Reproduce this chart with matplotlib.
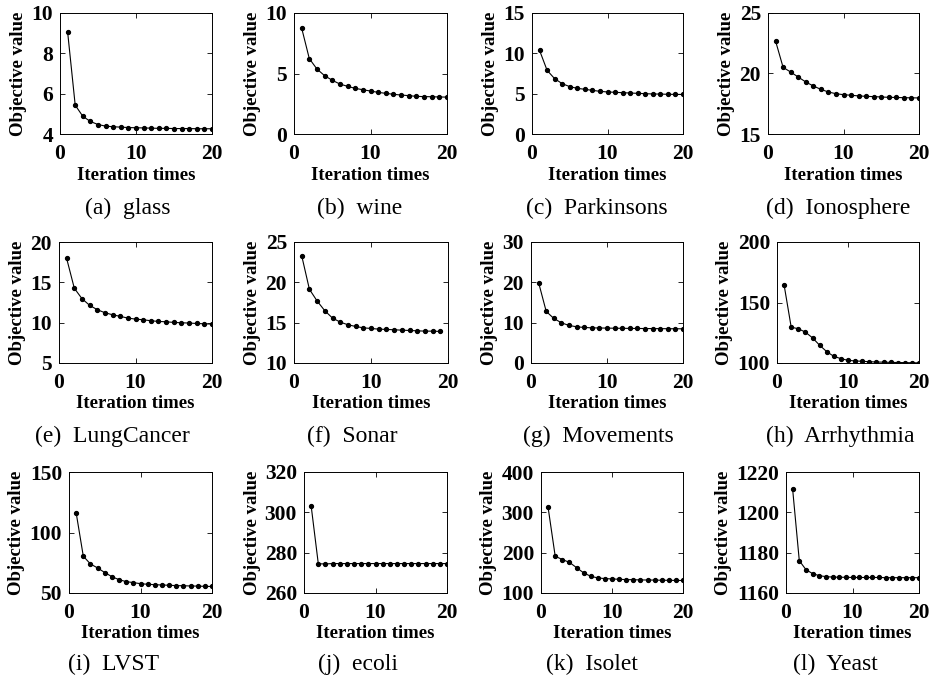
import matplotlib
matplotlib.use("Agg")
import matplotlib.pyplot as plt

plt.rcParams['font.family'] = ['Liberation Serif', 'DejaVu Serif']

# convergence data
glass = [9.07, 5.43, 4.88, 4.62, 4.47, 4.39, 4.36, 4.34, 4.32, 4.31, 4.30, 4.29, 4.28, 4.28, 4.27, 4.27, 4.27, 4.26, 4.26, 4.26]
wine = [8.76, 6.23, 5.37, 4.82, 4.44, 4.13, 3.94, 3.77, 3.66, 3.55, 3.44, 3.36, 3.28, 3.22, 3.17, 3.11, 3.09, 3.08, 3.06, 3.05]
parkinsons = [10.37, 7.89, 6.86, 6.24, 5.87, 5.66, 5.54, 5.41, 5.29, 5.21, 5.17, 5.12, 5.08, 5.04, 5.00, 4.96, 4.95, 4.92, 4.91, 4.90]
ionosphere = [22.69, 20.51, 20.12, 19.71, 19.30, 18.97, 18.69, 18.47, 18.33, 18.25, 18.20, 18.15, 18.11, 18.09, 18.06, 18.03, 18.02, 18.00, 17.99, 17.98]
lungcancer = [17.96, 14.27, 12.98, 12.15, 11.61, 11.23, 10.98, 10.78, 10.57, 10.44, 10.36, 10.24, 10.15, 10.11, 10.03, 9.99, 9.95, 9.90, 9.86, 9.82]
sonar = [23.3, 19.14, 17.69, 16.48, 15.57, 15.07, 14.74, 14.53, 14.36, 14.28, 14.20, 14.16, 14.12, 14.07, 14.03, 13.99, 13.95, 13.95, 13.91]
movements = [19.94, 12.8, 11.05, 9.97, 9.31, 8.98, 8.81, 8.72, 8.68, 8.65, 8.62, 8.60, 8.58, 8.56, 8.55, 8.53, 8.52, 8.50, 8.49, 8.48]
arrhythmia = [164.5, 129.6, 128.3, 125.5, 120.8, 114.7, 109.4, 105.5, 103.6, 102.2, 101.7, 101.4, 101.1, 100.8, 100.7, 100.5, 100.4, 100.3, 100.2, 100.1]
lvst = [116.3, 80.4, 74.0, 70.7, 66.9, 63.5, 61.0, 59.4, 58.6, 57.7, 57.2, 56.9, 56.6, 56.4, 56.1, 56.0, 55.8, 55.7, 55.5, 55.4]
ecoli = [303.2, 274.5, 274.4, 274.6, 274.6, 274.6, 274.6, 274.6, 274.6, 274.6, 274.6, 274.6, 274.6, 274.6, 274.6, 274.6, 274.6, 274.6, 274.6, 274.6]
isolet = [312.2, 191.2, 183.0, 176.0, 163.0, 150.0, 141.5, 137.4, 135.7, 134.9, 134.0, 133.2, 133.0, 132.4, 132.2, 132.0, 131.6, 131.4, 131.2, 131.0]
yeast = [1211.4, 1176.0, 1171.6, 1169.6, 1168.6, 1168.1, 1167.9, 1167.8, 1167.8, 1167.7, 1167.7, 1167.7, 1167.7, 1167.7, 1167.6, 1167.6, 1167.6, 1167.6, 1167.6, 1167.6]

series = [glass, wine, parkinsons, ionosphere, lungcancer, sonar, movements, arrhythmia, lvst, ecoli, isolet, yeast]
captions = ["(a)  glass", "(b)  wine", "(c)  Parkinsons", "(d)  Ionosphere",
            "(e)  LungCancer", "(f)  Sonar", "(g)  Movements", "(h)  Arrhythmia",
            "(i)  LVST", "(j)  ecoli", "(k)  Isolet", "(l)  Yeast"]
yticks = [[4, 6, 8, 10], [0, 5, 10], [0, 5, 10, 15], [15, 20, 25],
          [5, 10, 15, 20], [10, 15, 20, 25], [0, 10, 20, 30], [100, 150, 200],
          [50, 100, 150], [260, 280, 300, 320], [100, 200, 300, 400], [1160, 1180, 1200, 1220]]
xticks = [0, 10, 20]

W, H = 931, 683
fig = plt.figure(figsize=(W / 100, H / 100), dpi=100)

# axes boxes in pixels: left, right, top, bottom
boxes = [(60, 212, 13, 134), (294, 447, 13, 134), (532, 683, 13, 134), (768, 919, 13, 134),
         (59, 212, 242, 363), (294, 448, 242, 363), (531, 683, 242, 363), (777, 919, 242, 363),
         (69, 212, 472, 593), (304, 447, 472, 593), (541, 683, 472, 593), (786, 919, 472, 593)]
cap_x = [128, 360, 597, 838, 112, 352, 598, 840, 114, 358, 592, 835]
cap_y = [208, 208, 208, 208, 436, 436, 436, 436, 664, 664, 664, 664]

for i in range(12):
    l, r, t, b = boxes[i]
    ax = fig.add_axes([l / W, 1 - b / H, (r - l) / W, (b - t) / H])
    y = series[i]
    x = list(range(1, len(y) + 1))
    ax.plot(x, y, color="black", linewidth=0.8, marker="o", markersize=2.8)
    ax.set_xlim(0, 20)
    ax.set_ylim(yticks[i][0], yticks[i][-1])
    ax.set_xticks(xticks)
    ax.set_yticks(yticks[i])
    ax.tick_params(direction="in", top=True, right=True, length=3.5, width=0.6, labelsize=15.5)
    ax.tick_params(axis="x", pad=7)
    ax.tick_params(axis="y", pad=5)
    for lab in ax.get_xticklabels() + ax.get_yticklabels():
        lab.set_fontweight("bold")
    for s in ax.spines.values():
        s.set_linewidth(0.7)
    ax.set_xlabel("Iteration times", fontsize=13.5, fontweight="bold", labelpad=2)
    ax.set_ylabel("Objective value", fontsize=13.5, fontweight="bold", labelpad=3)
    fig.text(cap_x[i] / W, 1 - cap_y[i] / H, captions[i], fontsize=17, ha="center", va="center")

fig.savefig("out.png", dpi=100)
